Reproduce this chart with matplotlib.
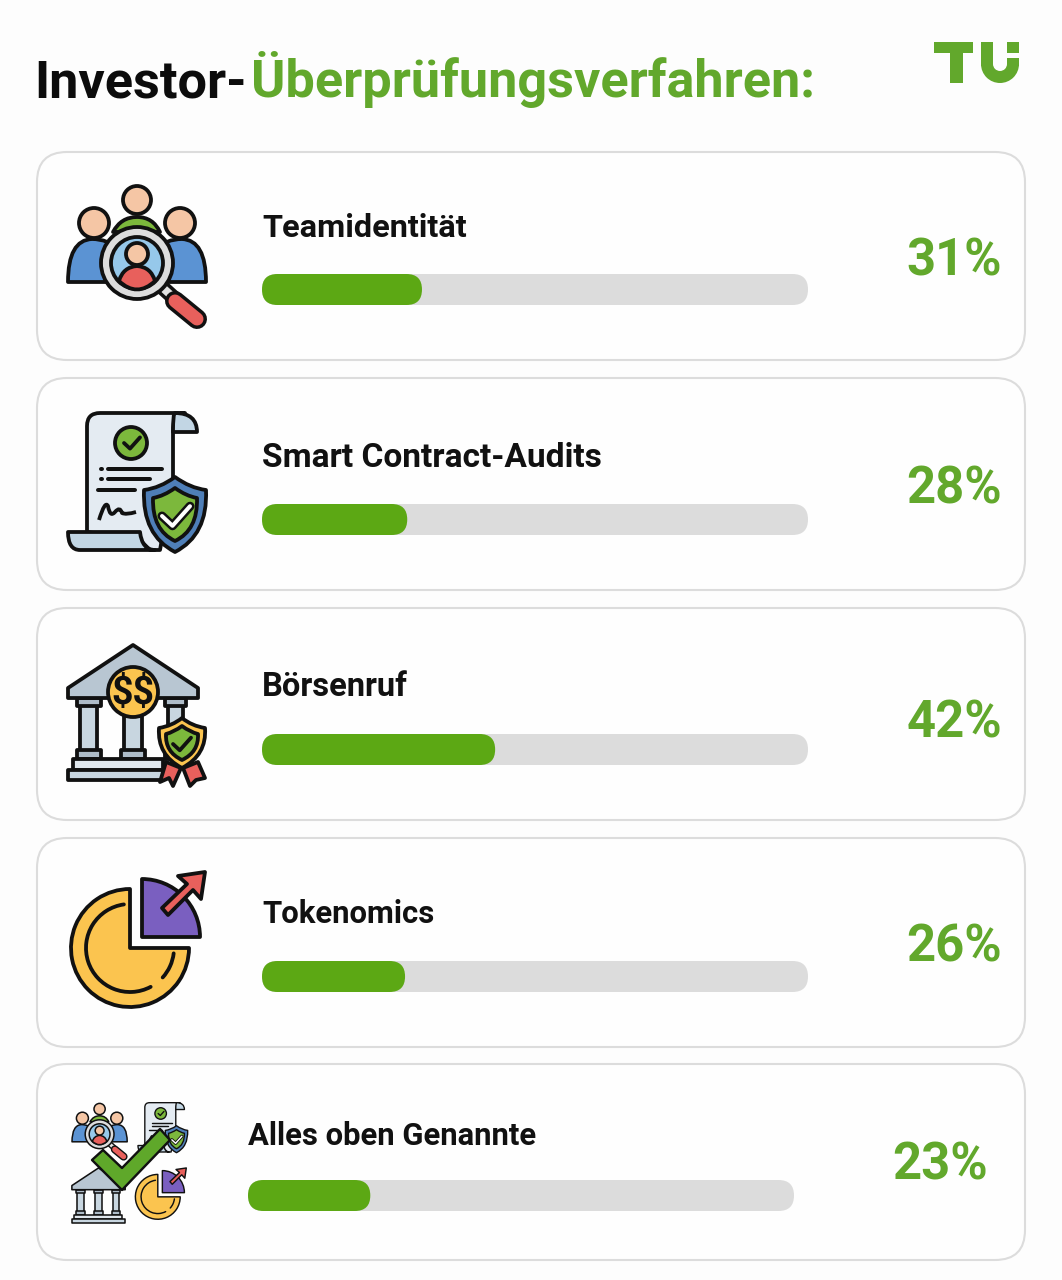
import matplotlib
matplotlib.use("Agg")
import matplotlib.pyplot as plt
from matplotlib.patches import Arc, Circle, FancyBboxPatch, PathPatch, Rectangle, Wedge
from matplotlib.path import Path
from matplotlib.transforms import Affine2D

plt.rcParams['font.family'] = ['Roboto', 'DejaVu Sans']

labels = ["Teamidentität", "Smart Contract-Audits", "Börsenruf", "Tokenomics", "Alles oben Genannte"]
percents = [31, 28, 42, 26, 23]
# the bars in the picture are not quite as long as the printed numbers
bar_lengths = [29.3, 26.6, 42.7, 26.2, 22.4]

GREEN = "#5ca814"
TEXT_GREEN = "#62a82c"
INK = "#111111"
BLUE = "#5b93d3"
SKIN = "#f5c6a5"
RED = "#e8605c"
GREY = "#aebcc8"
PALE = "#e4ebf2"
STEEL = "#c2d6e4"
YELLOW = "#fbc44f"
LEAF = "#7cb83c"
OUTLINE = 3.8

fig = plt.figure(figsize=(10.62, 12.8), dpi=100, facecolor="#fdfdfd")
ax = fig.add_axes([0, 0, 1, 1])
ax.set_xlim(0, 1062)
ax.set_ylim(1280, 0)
ax.axis("off")

z = [3]


class Icon:
    # draws in reference pixels, moved and scaled for the small combined icon
    def __init__(self, ox=0, oy=0, s=1.0):
        self.s = s
        self.tr = Affine2D().scale(s).translate(ox, oy) + ax.transData

    def add(self, patch, fc="none", lw=OUTLINE, ec=INK):
        z[0] += 1
        patch.set(facecolor=fc, edgecolor=ec, linewidth=lw * 0.72 * self.s, transform=self.tr, zorder=z[0])
        patch.set_joinstyle("round")
        ax.add_patch(patch)
        return patch

    def shape(self, pts, fc="none", lw=OUTLINE, ec=INK, close=True):
        # (x, y) is a straight segment, (cx, cy, x, y) a quadratic curve
        verts, codes = [pts[0]], [Path.MOVETO]
        for p in pts[1:]:
            if len(p) == 2:
                verts.append(p)
                codes.append(Path.LINETO)
            else:
                verts += [p[:2], p[2:]]
                codes += [Path.CURVE3, Path.CURVE3]
        if close:
            verts.append(pts[0])
            codes.append(Path.CLOSEPOLY)
        return self.add(PathPatch(Path(verts, codes)), fc, lw, ec)

    def circle(self, x, y, r, fc="none", lw=OUTLINE):
        return self.add(Circle((x, y), r), fc, lw)

    def box(self, x0, y0, x1, y1, fc="none", lw=OUTLINE):
        return self.add(Rectangle((x0, y0), x1 - x0, y1 - y0), fc, lw)

    def line(self, x, y, color=INK, lw=OUTLINE):
        z[0] += 1
        ax.plot(x, y, color=color, lw=lw * 0.72 * self.s, transform=self.tr, zorder=z[0],
                solid_capstyle="round", solid_joinstyle="round")

    def check(self, x, y, size, color=INK, lw=OUTLINE):
        self.line([x - size, x - size * 0.25, x + size], [y, y + size * 0.7, y - size * 0.7], color, lw)


def draw_team(ic):
    ic.shape([(113, 232), (121, 217, 137, 217), (153, 217, 160, 232)], LEAF)
    ic.circle(137, 200, 14, SKIN)
    ic.shape([(68, 282), (68, 240, 92, 239), (108, 239, 120, 250), (120, 282)], BLUE)
    ic.shape([(206, 282), (206, 240, 182, 239), (166, 239, 154, 250), (154, 282)], BLUE)
    ic.circle(94, 223, 15, SKIN)
    ic.circle(180, 223, 15, SKIN)
    ic.line([163, 174], [288, 298], INK, 15)
    ic.line([163, 174], [288, 298], "#e2e2e2", 8)
    ic.line([175, 197], [301, 319], INK, 20)
    ic.line([175, 197], [301, 319], RED, 13)
    ic.circle(137, 263, 36, "#dddddd")
    ic.circle(137, 263, 26, "#96c8ea")
    ic.shape([(119, 281), (123, 267, 137, 266), (151, 267, 155, 281), (137, 298, 119, 281)], RED)
    ic.circle(137, 254, 11, SKIN)


def draw_doc(ic):
    ic.shape([(87, 532), (87, 426), (87, 413, 100, 413), (185, 413), (173, 413, 173, 432), (173, 478),
              (160, 550), (150, 550), (140, 540)], PALE)
    ic.shape([(175, 413), (197, 413, 197, 432), (173, 432), (173, 413, 175, 413)], STEEL)
    ic.shape([(68, 532), (140, 532), (142, 550, 155, 550), (80, 550), (68, 550, 68, 532)], STEEL)
    ic.circle(131, 443, 16, LEAF)
    ic.check(132, 443, 8)
    ic.line([101, 101.5], [469, 469], INK, 4)
    ic.line([108, 162], [469, 469], INK, 4)
    ic.line([101, 101.5], [479, 479], INK, 4)
    ic.line([108, 150], [479, 479], INK, 4)
    ic.line([98, 135], [490, 490], INK, 4)
    ic.shape([(99, 520), (105, 500, 108, 506), (110, 518, 115, 512), (120, 506, 122, 513), (126, 515, 136, 512)],
             close=False)
    ic.shape([(175, 477), (190, 488, 206, 490), (208, 535, 175, 552), (142, 535, 144, 490), (160, 488, 175, 477)],
             "#4f7fb8")
    ic.shape([(175, 488), (186, 496, 197, 498), (198, 530, 175, 541), (152, 530, 153, 498), (164, 496, 175, 488)],
             LEAF)
    ic.check(176, 516, 14, INK, 9)
    ic.check(176, 516, 14, "white", 4)


def draw_bank(ic, extras=True):
    for x0, x1, bx0, bx1 in [(80, 97, 77, 101), (124, 142, 121, 145), (168, 183, 165, 186)]:
        ic.box(x0, 704, x1, 752, "#c8d6e0")
        ic.box(bx0, 750, bx1, 759, GREY)
        ic.box(bx0, 698, bx1, 706, GREY)
    ic.box(73, 759, 163 if extras else 190, 770, "#dfe6ec")
    ic.box(68, 770, 163 if extras else 198, 780, "#c8d6e0")
    ic.shape([(133, 645), (68, 688), (68, 698), (198, 698), (198, 688)], "#b8c6d2")
    if not extras:
        return
    ic.circle(133, 692, 25, YELLOW)
    z[0] += 1
    ax.text(133, 693, "$$", parse_math=False, fontsize=27, fontweight="bold", color=INK, ha="center",
            va="center", zorder=z[0])
    ic.shape([(166, 762), (160, 782), (169, 778), (173, 786), (181, 768)], RED)
    ic.shape([(198, 762), (205, 778), (196, 780), (190, 786), (183, 768)], RED)
    ic.shape([(182, 718), (192, 726, 205, 728), (207, 755, 182, 768), (157, 755, 159, 728), (172, 726, 182, 718)],
             YELLOW)
    ic.shape([(182, 726), (190, 732, 198, 734), (199, 752, 182, 760), (165, 752, 166, 734), (174, 732, 182, 726)],
             LEAF)
    ic.check(182, 744, 9)


def draw_pie(ic):
    ic.add(Wedge((130, 948), 59, 0, 270), YELLOW)
    z[0] += 1
    for t0, t1 in [(62, 262), (7, 42)]:
        arc = Arc((130, 948), 88, 88, theta1=t0, theta2=t1, edgecolor=INK, linewidth=OUTLINE * 0.72 * ic.s,
                  transform=ic.tr, zorder=z[0], capstyle="round")
        ax.add_patch(arc)
    ic.add(Wedge((142, 937), 58, 270, 360), "#7a5fc0")
    ic.shape([(162, 908), (187, 884), (178, 876), (205, 872), (201, 899), (193, 890), (168, 915)], RED)


def draw_all(ic):
    draw_team(Icon(44.8, 1029, 0.4))
    draw_doc(Icon(113.5, 954, 0.36))
    draw_bank(Icon(44, 903.5, 0.41), extras=False)
    draw_pie(Icon(108.4, 836.6, 0.38))
    ic.shape([(92, 1160), (103, 1150), (122, 1168), (160, 1129), (170, 1140), (122, 1190)], "#5fa82a", 2.4)


card_boxes = [(152, 360), (378, 590), (608, 820), (838, 1047), (1064, 1260)]
track_tops = [274, 504, 734, 961, 1180]
label_ys = [228, 458, 687, 914, 1136]
label_sizes = [23.4, 24.1, 23.5, 22.4, 22.3]
percent_ys = [261, 489, 723, 947, 1166]
bar_lefts = [262, 262, 262, 262, 248]
percent_rights = [1002, 1002, 1002, 1002, 988]
icons = [
    lambda: draw_team(Icon()),
    lambda: draw_doc(Icon()),
    lambda: draw_bank(Icon()),
    lambda: draw_pie(Icon()),
    lambda: draw_all(Icon()),
]

BAR_SPAN = 546
BAR_H = 31

for i, label in enumerate(labels):
    top, bottom = card_boxes[i]
    ax.add_patch(FancyBboxPatch((37 + 30, top + 30), 988 - 60, bottom - top - 60,
                                boxstyle="round,pad=30,rounding_size=30",
                                fc="#fefefe", ec="#dcdcdc", lw=1.5, zorder=1))
    left = bar_lefts[i]
    y = track_tops[i]
    ax.add_patch(FancyBboxPatch((left, y), BAR_SPAN, BAR_H,
                                boxstyle=f"round,pad=0,rounding_size={BAR_H / 2}",
                                fc="#dcdcdc", ec="none", zorder=2))
    fill = BAR_SPAN * bar_lengths[i] / 100
    ax.add_patch(FancyBboxPatch((left, y), fill, BAR_H,
                                boxstyle=f"round,pad=0,rounding_size={BAR_H / 2}",
                                fc=GREEN, ec="none", zorder=3))
    ax.text(left, label_ys[i], label, fontsize=label_sizes[i], fontweight="bold", color=INK,
            va="center", ha="left")
    ax.text(percent_rights[i], percent_ys[i], f"{percents[i]}%", fontsize=36.5, fontweight="bold",
            color=TEXT_GREEN, va="center", ha="right")
    icons[i]()

ax.text(34.5, 97, "Investor-", fontsize=37.6, fontweight="bold", color="#0c0c0c", va="baseline", ha="left")
ax.text(251, 97, "Überprüfungsverfahren:", fontsize=37.6, fontweight="bold", color=TEXT_GREEN,
        va="baseline", ha="left")

# logo
logo = Icon()
logo.add(Rectangle((934, 42), 39, 11), TEXT_GREEN, 0)
logo.add(Rectangle((950, 42), 13, 41), TEXT_GREEN, 0)
logo.add(Rectangle((981, 42), 12, 24), TEXT_GREEN, 0)
logo.add(Rectangle((1007, 42), 12, 11), TEXT_GREEN, 0)
logo.add(Rectangle((1007, 58), 12, 8), TEXT_GREEN, 0)
logo.add(Wedge((1000, 64), 19, 0, 180, width=12), TEXT_GREEN, 0)

fig.savefig("out.png", dpi=100, facecolor=fig.get_facecolor())
